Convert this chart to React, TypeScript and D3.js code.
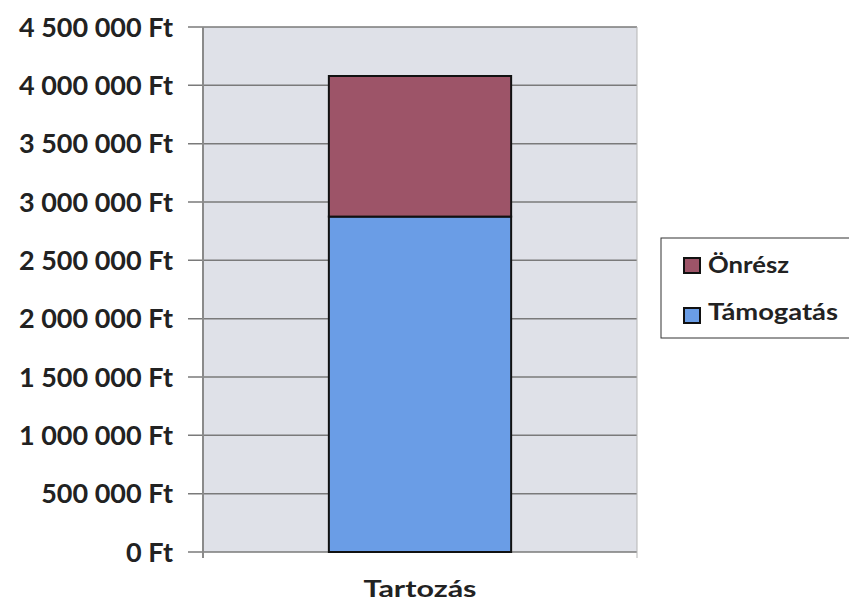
import React, { useEffect, useRef } from "react";
import * as d3 from "d3";

const categories = ["Tartozás"];
const seriesNames = ["Támogatás", "Önrész"];
const tamogatas = [2875000];
const onresz = [1205000];
const yTicks = [0, 500000, 1000000, 1500000, 2000000, 2500000, 3000000, 3500000, 4000000, 4500000];
const colors = ["#6a9de6", "#9d5468"];
const legendItems = ["Önrész", "Támogatás"];

const width = 849;
const height = 604;
const margin = { top: 27, right: 212, bottom: 52, left: 203 };
const font = "Lato, 'Open Sans', sans-serif";

const fmt = (v: number) =>
  v.toString().replace(/\B(?=(\d{3})+(?!\d))/g, " ") + " Ft";

export default function App() {
  const svgRef = useRef<SVGSVGElement | null>(null);

  useEffect(() => {
    const svg = d3.select(svgRef.current);
    svg.selectAll("*").remove();

    const innerW = width - margin.left - margin.right;
    const innerH = height - margin.top - margin.bottom;

    const x = d3.scaleBand().domain(categories).range([0, innerW]).paddingInner(0.58).paddingOuter(0.29);
    const y = d3.scaleLinear().domain([0, 4500000]).range([innerH, 0]);

    const g = svg.append("g").attr("transform", `translate(${margin.left},${margin.top})`);

    g.append("rect")
      .attr("width", innerW)
      .attr("height", innerH)
      .attr("fill", "#dfe1e8");

    // gridlines
    g.selectAll("line.grid")
      .data(yTicks)
      .enter()
      .append("line")
      .attr("x1", -15)
      .attr("x2", innerW)
      .attr("y1", (d) => y(d))
      .attr("y2", (d) => y(d))
      .attr("stroke", "#7a7a7a")
      .attr("stroke-width", 1.5);

    g.append("line")
      .attr("x1", 0)
      .attr("x2", 0)
      .attr("y1", 0)
      .attr("y2", innerH + 6)
      .attr("stroke", "#8a8a8a")
      .attr("stroke-width", 2);
    g.append("line")
      .attr("x1", innerW)
      .attr("x2", innerW)
      .attr("y1", 0)
      .attr("y2", innerH + 6)
      .attr("stroke", "#b5b5b5")
      .attr("stroke-width", 1);

    // y labels
    g.selectAll("text.ylab")
      .data(yTicks)
      .enter()
      .append("text")
      .attr("x", -30)
      .attr("y", (d) => y(d))
      .attr("dy", "0.36em")
      .attr("text-anchor", "end")
      .attr("font-family", font)
      .attr("font-weight", "bold")
      .attr("font-size", 27)
      .attr("fill", "#222")
      .text((d) => fmt(d));

    const stacked = d3.stack<any>().keys(seriesNames)(
      categories.map((c, i) => ({ cat: c, "Támogatás": tamogatas[i], "Önrész": onresz[i] }))
    );

    stacked.forEach((layer, li) => {
      g.selectAll(`rect.s${li}`)
        .data(layer)
        .enter()
        .append("rect")
        .attr("x", (d: any) => x(d.data.cat) as number)
        .attr("width", x.bandwidth())
        .attr("y", (d) => y(d[1]))
        .attr("height", (d) => y(d[0]) - y(d[1]))
        .attr("fill", colors[li])
        .attr("stroke", "#111")
        .attr("stroke-width", 2);
    });

    g.selectAll("text.xlab")
      .data(categories)
      .enter()
      .append("text")
      .attr("x", (d) => (x(d) as number) + x.bandwidth() / 2)
      .attr("y", innerH + 45)
      .attr("text-anchor", "middle")
      .attr("font-family", font)
      .attr("font-weight", "bold")
      .attr("font-size", 23)
      .attr("textLength", 113)
      .attr("lengthAdjust", "spacingAndGlyphs")
      .attr("fill", "#222")
      .text((d) => d);

    // legend
    const lg = svg.append("g").attr("transform", "translate(661,238)");
    lg.append("rect")
      .attr("width", 200)
      .attr("height", 100)
      .attr("fill", "white")
      .attr("stroke", "#333")
      .attr("stroke-width", 1);
    const legendWidths = [81, 130];
    legendItems.forEach((name, i) => {
      const col = colors[seriesNames.indexOf(name)];
      lg.append("rect")
        .attr("x", 23)
        .attr("y", 20 + i * 50)
        .attr("width", 16)
        .attr("height", 15)
        .attr("fill", col)
        .attr("stroke", "#111")
        .attr("stroke-width", 2);
      lg.append("text")
        .attr("x", 47)
        .attr("y", 35 + i * 47)
        .attr("font-family", font)
        .attr("font-weight", "bold")
        .attr("font-size", 23)
        .attr("textLength", legendWidths[i])
        .attr("lengthAdjust", "spacingAndGlyphs")
        .attr("fill", "#222")
        .text(name);
    });
  }, []);

  return (
    <svg
      ref={svgRef}
      width={width}
      height={height}
      style={{ position: "absolute", left: 0, top: 0, background: "white" }}
    ></svg>
  );
}
